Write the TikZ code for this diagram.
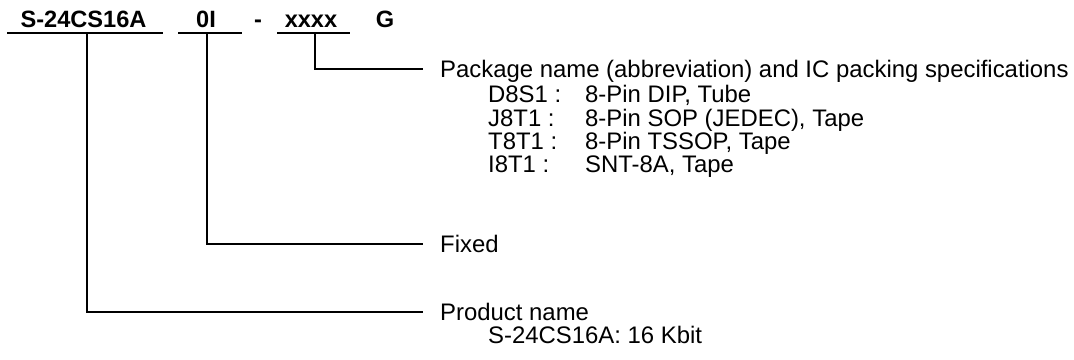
\documentclass[tikz,border=0pt]{standalone}
\usepackage{fontspec}
\setmainfont{Liberation Sans}
\usetikzlibrary{positioning}

\begin{document}
\begin{tikzpicture}[
 x=1pt,y=1pt,
 font=\fontsize{23.9}{23.9}\selectfont,
 part/.style={font=\fontsize{23.6}{23.6}\selectfont\bfseries,anchor=base,inner sep=0pt},
 lbl/.style={anchor=base west,inner sep=0pt},
 lead/.style={line width=2.2pt}
]
\useasboundingbox (0,0) rectangle (1074,-359);
% part number fields
\node[part] (pname) at (83.5,-27) {S-24CS16A};
\node[part] (fixd) at (206,-27) {0I};
\node[part] (dash) at (258,-27) {-};
\node[part] (pkg) at (311,-27) {xxxx};
\node[part] (envr) at (385,-27) {G};
% underlines and taps
\coordinate (pnameL) at (7,-33); \coordinate (pnameR) at (163,-33);
\coordinate (fixdL) at (178,-33); \coordinate (fixdR) at (242,-33);
\coordinate (pkgL) at (277,-33); \coordinate (pkgR) at (350,-33);
\coordinate (pnameTap) at (87,-33);
\coordinate (fixdTap) at (207,-33);
\coordinate (pkgTap) at (315,-33);
\draw[lead] (pnameL) -- (pnameR);
\draw[lead] (fixdL) -- (fixdR);
\draw[lead] (pkgL) -- (pkgR);
% leader ends
\coordinate (pkgEnd) at (423,-69);
\coordinate (fixdEnd) at (423,-244);
\coordinate (pnameEnd) at (423,-312);
\draw[lead] (pkgTap) |- (pkgEnd);
\draw[lead] (fixdTap) |- (fixdEnd);
\draw[lead] (pnameTap) |- (pnameEnd);
% package
\node[lbl] (pkgTitle) at ([xshift=17,yshift=-8]pkgEnd) {Package name (abbreviation) and IC packing specifications};
\node[lbl] (dip) at (488,-102) {D8S1 :};
\node[lbl] (dipD) at (585,-102) {8-Pin DIP, Tube};
\node[lbl] (sop) at (488,-126) {J8T1 :};
\node[lbl] (sopD) at (585,-126) {8-Pin SOP (JEDEC), Tape};
\node[lbl] (tssop) at (488,-149) {T8T1 :};
\node[lbl] (tssopD) at (585,-149) {8-Pin TSSOP, Tape};
\node[lbl] (snt) at (488,-172) {I8T1 :};
\node[lbl] (sntD) at (585,-172) {SNT-8A, Tape};
% fixed
\node[lbl] (fixdTitle) at ([xshift=17,yshift=-8]fixdEnd) {Fixed};
% product
\node[lbl] (pnameTitle) at ([xshift=17,yshift=-8]pnameEnd) {Product name};
\node[lbl] (pnameD) at (488,-343) {S-24CS16A: 16 Kbit};
\end{tikzpicture}
\end{document}
